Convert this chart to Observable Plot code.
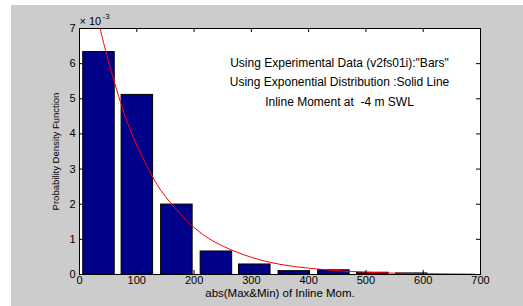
<!DOCTYPE html>
<html><head><meta charset="utf-8">
<script src="https://cdn.jsdelivr.net/npm/d3@7"></script>
<script src="https://cdn.jsdelivr.net/npm/@observablehq/plot@0.6"></script>
<style>
html,body{margin:0;padding:0;background:#fff;overflow:hidden}
#wrap{position:relative;width:523px;height:306px}
#bg{position:absolute;left:11px;top:5px;width:512px;height:301px;background:#cccccc}
#chart{position:absolute;left:0;top:0}
</style></head>
<body><div id="wrap"><div id="bg"></div><div id="chart"></div></div>
<script>
// Histogram bins (centres) and density values (in units of 10^-3)
const binCenters = [34, 101, 170, 239, 306, 375, 444, 512, 580];
const density = [6.33, 5.11, 1.99, 0.655, 0.285, 0.095, 0.12, 0.05, 0.03];
const barWidth = 55;
// Exponential fit curve (units of 10^-3)
const curveX = [36, 50, 75, 100, 125, 150, 200, 250, 300, 350, 400, 450, 500, 550, 600, 690];
const curveY = [7.0, 6.10, 4.73, 3.68, 2.86, 2.22, 1.34, 0.81, 0.49, 0.29, 0.18, 0.11, 0.065, 0.039, 0.024, 0.0095];
const xTicks = [0, 100, 200, 300, 400, 500, 600, 700];
const yTicks = [0, 1, 2, 3, 4, 5, 6, 7];
const notes = ['Using Experimental Data (v2fs01i):"Bars"', 'Using Exponential Distribution :Solid Line', 'Inline Moment at  -4 m SWL'];
const xLabel = "abs(Max&Min) of Inline Mom.";
const yLabel = "Probability Density Function";
const expLabel = "\u00d7 10";
const expSup = "-3";

const bars = binCenters.map((c, i) => ({c, d: density[i]}));
const curve = curveX.map((x, i) => ({x, y: curveY[i]}));

const W = 523, H = 306, mL = 79, mT = 28, mR = 43, mB = 32;
const innerW = W - mL - mR, innerH = H - mT - mB;

const chart = Plot.plot({
  width: W, height: H,
  marginLeft: mL, marginTop: mT, marginRight: mR, marginBottom: mB,
  style: {background: "transparent", fontFamily: "'Liberation Sans', Arial, sans-serif", fontSize: "11px", color: "#000"},
  x: {domain: [0, 700]},
  y: {domain: [0, 7]},
  marks: [
    Plot.frame({fill: "white"}),
    Plot.rectY(bars, {x1: d => d.c - barWidth / 2, x2: d => d.c + barWidth / 2, y: "d", fill: "#000088", stroke: "#000", strokeWidth: 1}),
    Plot.line(curve, {x: "x", y: "y", stroke: "#ff0000", strokeWidth: 1, curve: "natural", clip: true}),
    Plot.frame({stroke: "#000"}),
    Plot.tickX(xTicks, {x: d => d, insetTop: innerH - 4, stroke: "#000"}),
    Plot.tickX(xTicks, {x: d => d, insetBottom: innerH - 4, stroke: "#000"}),
    Plot.tickY(yTicks, {y: d => d, insetRight: innerW - 4, stroke: "#000"}),
    Plot.tickY(yTicks, {y: d => d, insetLeft: innerW - 4, stroke: "#000"}),
    Plot.axisX({ticks: xTicks, tickSize: 0, tickPadding: 2, label: null, tickFormat: d => String(d)}),
    Plot.axisY({ticks: yTicks, tickSize: 0, tickPadding: 4, label: null, tickFormat: d => String(d)}),
    Plot.text([notes.join("\n")], {text: d => d, frameAnchor: "top-left", dx: 260, dy: 25, lineAnchor: "top", lineHeight: 1.6, textAnchor: "middle", fontSize: 12}),
    Plot.text([xLabel], {text: d => d, frameAnchor: "bottom", dy: 19, lineAnchor: "middle", textAnchor: "middle", fontSize: 11.5}),
    Plot.text([yLabel], {text: d => d, frameAnchor: "left", dx: -24, rotate: -90, textAnchor: "middle", lineAnchor: "middle", fontSize: 9.5}),
    Plot.text([expLabel], {text: d => d, frameAnchor: "top-left", dy: -7, textAnchor: "start", lineAnchor: "middle", fontSize: 11}),
    Plot.text([expSup], {text: d => d, frameAnchor: "top-left", dx: 23, dy: -12, textAnchor: "start", lineAnchor: "middle", fontSize: 8})
  ]
});
document.getElementById("chart").appendChild(chart);
</script>
</body></html>
